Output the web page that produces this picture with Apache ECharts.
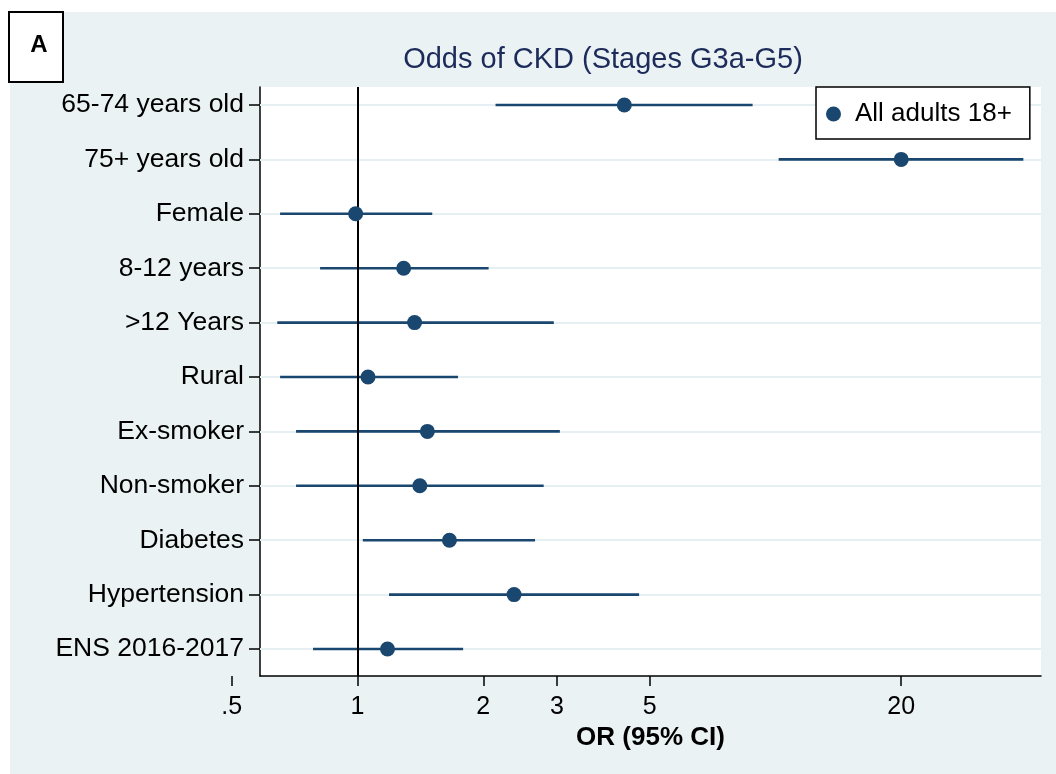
<!DOCTYPE html>
<html>
<head>
<meta charset="utf-8">
<script src="https://cdn.jsdelivr.net/npm/echarts@6/dist/echarts.min.js"></script>
<style>
html,body{margin:0;padding:0;background:#fff;}
#chart{width:1056px;height:774px;}
</style>
</head>
<body>
<div id="chart"></div>
<script>
// ---- data ----
const categories = ['65-74 years old','75+ years old','Female','8-12 years','>12 Years','Rural','Ex-smoker','Non-smoker','Diabetes','Hypertension','ENS 2016-2017'];
const orValues = [4.35, 20.0, 0.99, 1.29, 1.37, 1.06, 1.47, 1.41, 1.66, 2.37, 1.18];
const ciLower  = [2.14, 10.18, 0.653, 0.814, 0.643, 0.653, 0.713, 0.713, 1.03, 1.19, 0.783];
const ciUpper  = [8.82, 39.2, 1.51, 2.06, 2.95, 1.74, 3.05, 2.79, 2.66, 4.72, 1.79];
const xTickValues = [1, 2, 3, 5, 20];
const xTickLabels = ['1', '2', '3', '5', '20'];
const outerTickValues = [0.5];
const outerTickLabels = ['.5'];
const refValue = 1;
const seriesName = 'All adults 18+';
const titleText = 'Odds of CKD (Stages G3a-G5)';
const xTitle = 'OR (95% CI)';
const panelLabel = 'A';
const xRange = [0.5846, 43.2];

// ---- styling ----
const NAVY = '#1a476f';
const BG = '#eaf2f3';
const FONT = 'Liberation Sans, Arial, Helvetica, sans-serif';
const L = Math.log10;

const rowIdx = categories.map((c, i) => i);
const ciData = categories.map((c, i) => [L(ciLower[i]), L(ciUpper[i]), i]);
const ptData = categories.map((c, i) => [L(orValues[i]), i]);

function fmtFrom(vals, labels) {
  return function (v) {
    for (let k = 0; k < vals.length; k++) {
      if (Math.abs(L(vals[k]) - v) < 1e-6) return labels[k];
    }
    return '';
  };
}

const chart = echarts.init(document.getElementById('chart'), null, {renderer: 'canvas'});

const gridTop = 87, gridBottom = 98;
const pxPerDecade = (1041 - 260) / (L(xRange[1]) - L(xRange[0]));
const outerMin = L(outerTickValues[0]) - 5 / pxPerDecade;
const outerWidth = (L(xRange[0]) - outerMin) * pxPerDecade;

const option = {
  backgroundColor: '#ffffff',
  animation: false,
  textStyle: {fontFamily: FONT},
  graphic: [
    {type: 'rect', z: -10, shape: {x: 10, y: 12, width: 1046, height: 762}, style: {fill: BG}},
    {type: 'rect', z: 10, shape: {x: 9, y: 12, width: 54, height: 70}, style: {fill: '#fff', stroke: '#000', lineWidth: 2}},
    {type: 'text', z: 11, x: 39, y: 45, style: {text: panelLabel, font: 'bold 24px ' + FONT, fill: '#000', align: 'center', verticalAlign: 'middle'}}
  ],
  title: {
    text: titleText,
    left: 598, top: 40, textAlign: 'center',
    textStyle: {fontFamily: FONT, fontSize: 29, fontWeight: 'normal', color: '#1c2b5a'}
  },
  legend: {
    data: [seriesName],
    left: 816, top: 87, z: 20,
    orient: 'horizontal',
    backgroundColor: '#fff',
    borderColor: '#000', borderWidth: 1.5,
    padding: [11, 18, 9, 10],
    itemWidth: 15, itemHeight: 15,
    icon: 'circle',
    textStyle: {fontFamily: FONT, fontSize: 26, color: '#000', padding: [3, 0, 0, 9], lineHeight: 29}
  },
  grid: [
    {left: 260, right: 15, top: gridTop, bottom: gridBottom, show: true, backgroundColor: '#fff', borderWidth: 0},
    {left: 260 - outerWidth, width: outerWidth, top: gridTop, bottom: gridBottom, show: false}
  ],
  xAxis: [
    {
      type: 'value', gridIndex: 0,
      min: L(xRange[0]), max: L(xRange[1]),
      axisLine: {show: true, onZero: false, lineStyle: {color: '#000', width: 1.5}},
      axisTick: {show: true, length: 10, lineStyle: {color: '#000', width: 1.5}, customValues: xTickValues.map(L)},
      axisLabel: {show: true, margin: 19, fontSize: 25, color: '#000', fontFamily: FONT,
        customValues: xTickValues.map(L), formatter: fmtFrom(xTickValues, xTickLabels)},
      splitLine: {show: false},
      name: xTitle, nameLocation: 'middle', nameGap: 47,
      nameTextStyle: {fontFamily: FONT, fontSize: 26, fontWeight: 'bold', color: '#000'}
    },
    {
      type: 'value', gridIndex: 1,
      min: outerMin, max: L(xRange[0]),
      axisLine: {show: false, onZero: false},
      axisTick: {show: true, length: 10, lineStyle: {color: '#000', width: 1.5}, customValues: outerTickValues.map(L)},
      axisLabel: {show: true, margin: 19, fontSize: 25, color: '#000', fontFamily: FONT,
        customValues: outerTickValues.map(L), formatter: fmtFrom(outerTickValues, outerTickLabels)},
      splitLine: {show: false}
    }
  ],
  yAxis: [
    {
      type: 'value', gridIndex: 0, inverse: true,
      min: -0.331, max: 10.496,
      axisLine: {show: true, onZero: false, lineStyle: {color: '#000', width: 1.5}},
      axisTick: {show: true, length: 11, lineStyle: {color: '#000', width: 1.5}, customValues: rowIdx},
      axisLabel: {show: true, margin: 16, fontSize: 26.5, color: '#000', fontFamily: FONT,
        padding: [4, 0, 0, 0],
        customValues: rowIdx, formatter: function (v) { return categories[Math.round(v)] || ''; }},
      splitLine: {show: false}
    },
    {type: 'value', gridIndex: 1, show: false, min: 0, max: 1, axisLine: {onZero: false}}
  ],
  series: [
    {
      type: 'line', name: 'gridlines', xAxisIndex: 0, yAxisIndex: 0, data: [], z: 1, silent: true,
      markLine: {
        z: 1, silent: true, symbol: 'none', label: {show: false},
        lineStyle: {color: '#e6eff1', width: 2, type: 'solid'},
        data: rowIdx.map(i => ({yAxis: i}))
      }
    },
    {
      type: 'custom', name: 'ci', xAxisIndex: 0, yAxisIndex: 0, z: 2, silent: true,
      data: ciData,
      encode: {x: [0, 1], y: 2},
      renderItem: function (params, api) {
        const a = api.coord([api.value(0), api.value(2)]);
        const b = api.coord([api.value(1), api.value(2)]);
        return {type: 'rect', shape: {x: a[0], y: a[1] - 1.3, width: b[0] - a[0], height: 2.6},
          style: {fill: NAVY}};
      }
    },
    {
      type: 'line', name: 'ref', xAxisIndex: 0, yAxisIndex: 0, data: [], z: 3, silent: true,
      markLine: {
        z: 3, silent: true, symbol: 'none', label: {show: false},
        lineStyle: {color: '#000', width: 2, type: 'solid'},
        data: [{xAxis: L(refValue)}]
      }
    },
    {
      type: 'scatter', name: seriesName, xAxisIndex: 0, yAxisIndex: 0, z: 4,
      data: ptData, symbol: 'circle', symbolSize: 15,
      itemStyle: {color: NAVY, opacity: 1}
    }
  ]
};
chart.setOption(option);
</script>
</body>
</html>
